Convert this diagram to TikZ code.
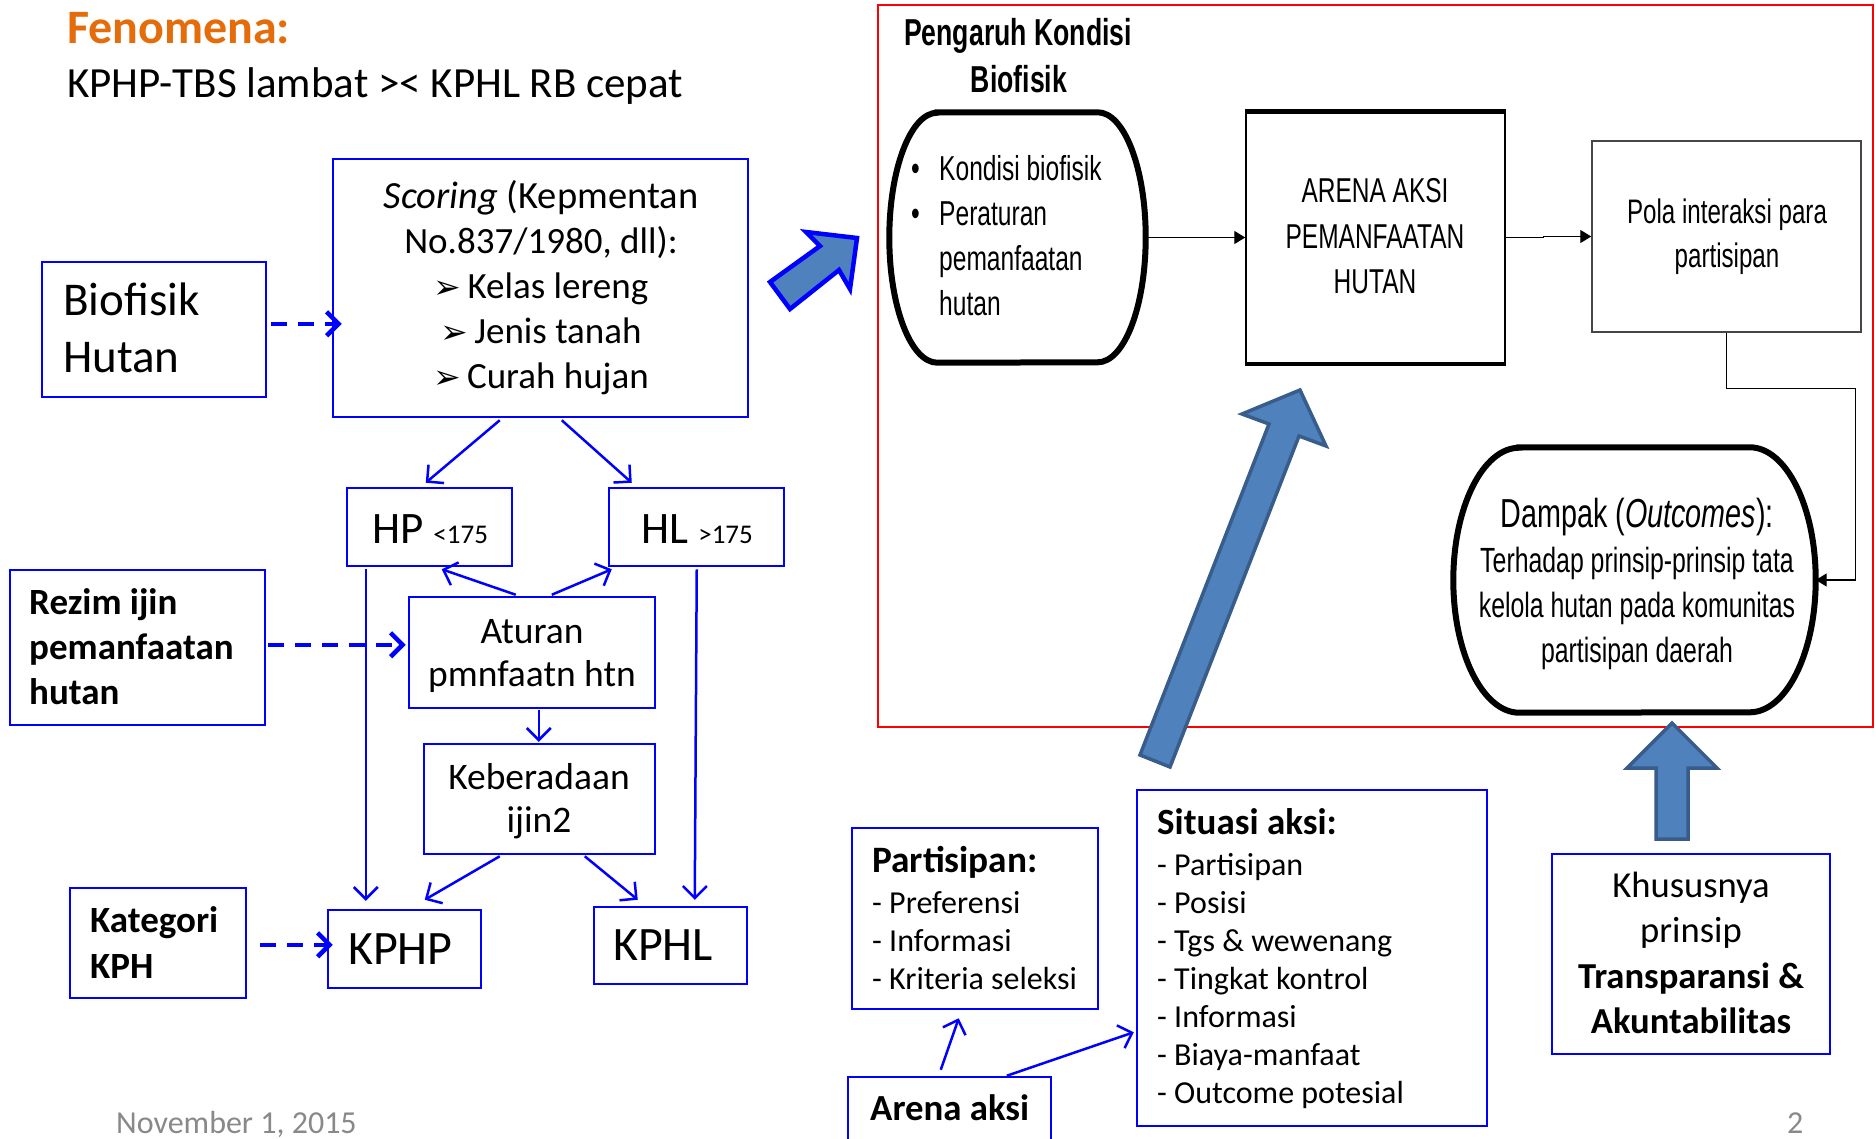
\documentclass[tikz,border=0pt]{standalone}
\usepackage{fontspec}
\setmainfont{Carlito}
\newfontfamily\narrow[FakeStretch=0.71]{Liberation Sans}
\newfontfamily\symfont{DejaVu Sans}
\usetikzlibrary{arrows.meta,calc}
\newcommand\fsz[1]{\fontsize{#1}{#1}\selectfont}
\definecolor{fenorange}{RGB}{228,108,10}
\definecolor{arrfill}{RGB}{79,129,189}
\definecolor{arrline}{RGB}{56,93,138}
\definecolor{datecol}{RGB}{137,137,137}
\definecolor{boxblue}{RGB}{0,0,255}
\definecolor{polagray}{RGB}{70,70,70}
\begin{document}
\begin{tikzpicture}[x=1pt,y=-1pt,
  bbox/.style={draw=boxblue, line width=2.5pt, inner sep=0pt},
  lt/.style={inner sep=0pt, anchor=base west},
  ct/.style={inner sep=0pt, anchor=base},
  conn/.style={boxblue, line width=2.5pt, -{Straight Barb[length=12pt,width=24pt]}},
  dconn/.style={boxblue, line width=4.5pt, dash pattern=on 16pt off 11pt, -{Straight Barb[length=12pt,width=24pt]}},
  kconn/.style={black, line width=1.4pt, -{Triangle[length=11pt,width=13pt]}},
  bigarrow/.style={fill=arrfill, draw=arrline, line width=3.5pt, line join=miter}]
\useasboundingbox (0,0) rectangle (1876,1138);
\clip (0,0) rectangle (1876,1138);
\fill[white] (0,0) rectangle (1876,1138);

% ---------- title ----------
\node[lt] (fen) at (67,43) {\fsz{48}\bfseries\color{fenorange}Fenomena:};
\node[lt] (fenline) at (67,97) {\fsz{43}KPHP-TBS lambat >< KPHL RB cepat};

% ---------- left boxes ----------
\node[bbox, minimum width=224pt, minimum height=135pt] (bio) at (154,329.5) {};
\node[bbox, minimum width=415pt, minimum height=258pt] (scoring) at (540.5,288) {};
\node[bbox, minimum width=165pt, minimum height=78pt] (hp) at (429.5,527) {};
\node[bbox, minimum width=175pt, minimum height=78pt] (hl) at (696.5,527) {};
\node[bbox, minimum width=255pt, minimum height=155pt] (rezim) at (137.5,647.5) {};
\node[bbox, minimum width=246pt, minimum height=111pt] (aturan) at (532,652.5) {};
\node[bbox, minimum width=231pt, minimum height=110pt] (keber) at (539.5,799) {};
\node[bbox, minimum width=176pt, minimum height=110pt] (kategori) at (158,943) {};
\node[bbox, minimum width=153pt, minimum height=78pt] (kphp) at (404.5,949) {};
\node[bbox, minimum width=153pt, minimum height=77pt] (kphl) at (670.5,945.5) {};

% texts left
\node[lt] (bio1) at (63,315) {\fsz{47}Biofisik};
\node[lt] (bio2) at (63,372) {\fsz{47}Hutan};
\node[ct] (sc1) at (541,208) {\fsz{38.5}\textit{Scoring} (Kepmentan};
\node[ct] (sc2) at (541,253) {\fsz{37}No.837/1980, dll):};
\node[ct] (sc3) at (541,298) {\fsz{37}{\symfont\fsz{33}➢}\,Kelas lereng};
\node[ct] (sc4) at (541,343) {\fsz{37}{\symfont\fsz{33}➢}\,Jenis tanah};
\node[ct] (sc5) at (541,388) {\fsz{37}{\symfont\fsz{33}➢}\,Curah hujan};
\node[ct] (hpt) at (430,543) {\fsz{45}HP {\fsz{27}<175}};
\node[ct] (hlt) at (697,543) {\fsz{45}HL {\fsz{27}>175}};
\node[lt] (rz1) at (29,614) {\fsz{37}\bfseries Rezim ijin};
\node[lt] (rz2) at (29,659) {\fsz{37}\bfseries pemanfaatan};
\node[lt] (rz3) at (29,704) {\fsz{37}\bfseries hutan};
\node[ct] (at1) at (532,643) {\fsz{37.5}Aturan};
\node[ct] (at2) at (532,686) {\fsz{37.5}pmnfaatn htn};
\node[ct] (kb1) at (539,789) {\fsz{37.5}Keberadaan};
\node[ct] (kb2) at (539,832) {\fsz{37.5}ijin2};
\node[lt] (kt1) at (90,932) {\fsz{37}\bfseries Kategori};
\node[lt] (kt2) at (90,978) {\fsz{37}\bfseries KPH};
\node[lt] (kphpt) at (348,964) {\fsz{48}KPHP};
\node[lt] (kphlt) at (613,960) {\fsz{48}KPHL};
\node[lt] (date) at (116,1133) {\fsz{32}\color{datecol}November 1, 2015};

% connectors left
\draw[conn] ($(scoring.south west)+(168,2)$) -- ($(hp.north west)+(80,-4)$);
\draw[conn] ($(scoring.south west)+(230,2)$) -- ($(hl.north west)+(24,-4)$);
\draw[conn] ($(aturan.north west)+(108,-1)$) -- ($(hp.south west)+(96,2)$);
\draw[conn] ($(aturan.north west)+(144,-1)$) -- ($(hl.south west)+(4,2)$);
\draw[conn] ($(hp.south west)+(20,2)$) -- ($(kphp.north west)+(39,-8)$);
\draw[conn] ($(hl.south west)+(89,2)$) -- ($(kphl.north west)+(102,-6)$);
\draw[conn] ($(aturan.south west)+(131,1)$) -- ($(keber.north west)+(116,-1)$);
\draw[conn] ($(keber.south west)+(77,1)$) -- ($(kphp.north west)+(98,-9)$);
\draw[conn] ($(keber.south west)+(162,1)$) -- ($(kphl.north west)+(45,-6)$);
\draw[dconn] ($(bio.north east)+(4,63)$) -- ($(scoring.north west)+(10,166)$);
\draw[dconn] ($(rezim.north east)+(2,76)$) -- ($(aturan.north west)+(-2,49)$);
\draw[dconn] ($(kategori.north east)+(13,58)$) -- ($(kphp.north west)+(6,36)$);

% NE blue arrow
\draw[fill=arrfill, draw=boxblue, line width=4.5pt, line join=miter]
  (770,282) -- (820,246) -- (806,232) -- (857,238) -- (850,289) -- (839,270) -- (790,309) -- cycle;

% ---------- right framed part ----------
\node[draw=red, line width=2.5pt, inner sep=0pt, minimum width=995pt, minimum height=722pt] (frame) at (1375.5,366) {};
\node[ct] (peng1) at (1018,45) {\narrow\bfseries\fsz{37.5}Pengaruh Kondisi};
\node[ct] (peng2) at (1019,92) {\narrow\bfseries\fsz{37.5}Biofisik};

\node[inner sep=0pt, minimum width=256pt, minimum height=250pt] (kond) at (1017.5,237.5) {};
\draw[line width=6pt] ($(kond.north west)+(48,0)$) -- ($(kond.north east)+(-48,0)$)
  arc[start angle=90, end angle=-90, x radius=48pt, y radius=125pt]
  -- ($(kond.south west)+(48,0)$)
  arc[start angle=270, end angle=90, x radius=48pt, y radius=125pt] -- cycle;
\node[lt] (bul1) at (911,180) {\narrow\fsz{35}•};
\node[lt] (bul2) at (911,225) {\narrow\fsz{35}•};
\node[lt] (kd1) at (939,180) {\narrow\fsz{34.6}Kondisi biofisik};
\node[lt] (kd2) at (939,225) {\narrow\fsz{34.6}Peraturan};
\node[lt] (kd3) at (939,270) {\narrow\fsz{34.6}pemanfaatan};
\node[lt] (kd4) at (939,315) {\narrow\fsz{34.6}hutan};

\node[draw=black, line width=1.5pt, inner sep=0pt, minimum width=259pt, minimum height=251pt] (arena) at (1375.5,237.5) {};
\draw[line width=4.5pt] (arena.north west) -- (arena.north east);
\draw[line width=4.5pt] (arena.south west) -- (arena.south east);
\node[ct] (ar1) at (1375,202) {\narrow\fsz{34.5}ARENA AKSI};
\node[ct] (ar2) at (1375,248) {\narrow\fsz{34.5}PEMANFAATAN};
\node[ct] (ar3) at (1375,293) {\narrow\fsz{34.5}HUTAN};

\node[draw=polagray, line width=1.5pt, inner sep=0pt, minimum width=269pt, minimum height=191pt] (pola) at (1726.5,236.5) {};
\node[ct] (po1) at (1727,223) {\narrow\fsz{34}Pola interaksi para};
\node[ct] (po2) at (1727,267) {\narrow\fsz{34}partisipan};

\node[inner sep=0pt, minimum width=362pt, minimum height=265pt] (dampak) at (1634.5,580) {};
\draw[line width=6pt] ($(dampak.north west)+(66,0)$) -- ($(dampak.north east)+(-66,0)$)
  arc[start angle=90, end angle=-90, x radius=66pt, y radius=132.5pt]
  -- ($(dampak.south west)+(66,0)$)
  arc[start angle=270, end angle=90, x radius=66pt, y radius=132.5pt] -- cycle;
\node[ct] (dp1) at (1637,527) {\narrow\fsz{40.5}Dampak (\textit{Outcomes}):};
\node[ct] (dp2) at (1637,572) {\narrow\fsz{35}Terhadap prinsip-prinsip tata};
\node[ct] (dp3) at (1637,617) {\narrow\fsz{35}kelola hutan pada komunitas};
\node[ct] (dp4) at (1637,662) {\narrow\fsz{35}partisipan daerah};

\draw[kconn] (kond.east) -- (arena.west);
\draw[kconn] (arena.east) -- ++(38,0) |- (pola.west);
\draw[kconn] (pola.south) -- ++(0,56) -| ($(dampak.east)+(40,0)$) -- (dampak.east);

% ---------- bottom right ----------
\node[bbox, minimum width=246pt, minimum height=181pt] (partis) at (975,918.5) {};
\node[lt] (pa0) at (872,872) {\fsz{37.3}\bfseries Partisipan:};
\foreach \t [count=\i] in {- Preferensi, - Informasi, - Kriteria seleksi}
  \node[lt] (pa\i) at (872,{913+38*(\i-1)}) {\fsz{32}\t};

\node[bbox, minimum width=350pt, minimum height=336pt] (situasi) at (1312,958) {};
\node[lt] (si0) at (1157,834) {\fsz{37}\bfseries Situasi aksi:};
\foreach \t [count=\i] in {- Partisipan, - Posisi, - Tgs \& wewenang, - Tingkat kontrol, - Informasi, - Biaya-manfaat, - Outcome potesial}
  \node[lt] (si\i) at (1157,{875+38*(\i-1)}) {\fsz{32}\t};

\node[bbox, minimum width=278pt, minimum height=200pt] (khusus) at (1691,954) {};
\node[ct] (kh1) at (1691,897) {\fsz{36.6}Khususnya};
\node[ct] (kh2) at (1691,942) {\fsz{36.6}prinsip};
\node[ct] (kh3) at (1691,988) {\fsz{36.6}\bfseries Transparansi \&};
\node[ct] (kh4) at (1691,1033) {\fsz{36.6}\bfseries Akuntabilitas};

\node[bbox, minimum width=203pt, minimum height=83pt] (arenaaksi) at (949.5,1118.5) {};
\node[lt] (aa) at (870,1120) {\fsz{36.8}\bfseries Arena aksi};

\draw[conn] ($(arenaaksi.north west)+(94,-6)$) -- ($(partis.south west)+(108,8)$);
\draw[conn] ($(arenaaksi.north west)+(160,0)$) -- ($(situasi.south west)+(-2,-95)$);

\node[lt] (pagenum) at (1787,1133) {\fsz{32}\color{datecol}2};

% big arrows
\draw[bigarrow] (1140,755) -- (1269,424) -- (1242,414) -- (1300,390) -- (1326,446) -- (1299,436) -- (1170,767) -- cycle;
\draw[bigarrow] (1656,839) -- (1656,768) -- (1627,768) -- (1672,723) -- (1717,768) -- (1688,768) -- (1688,839) -- cycle;
\end{tikzpicture}
\end{document}
